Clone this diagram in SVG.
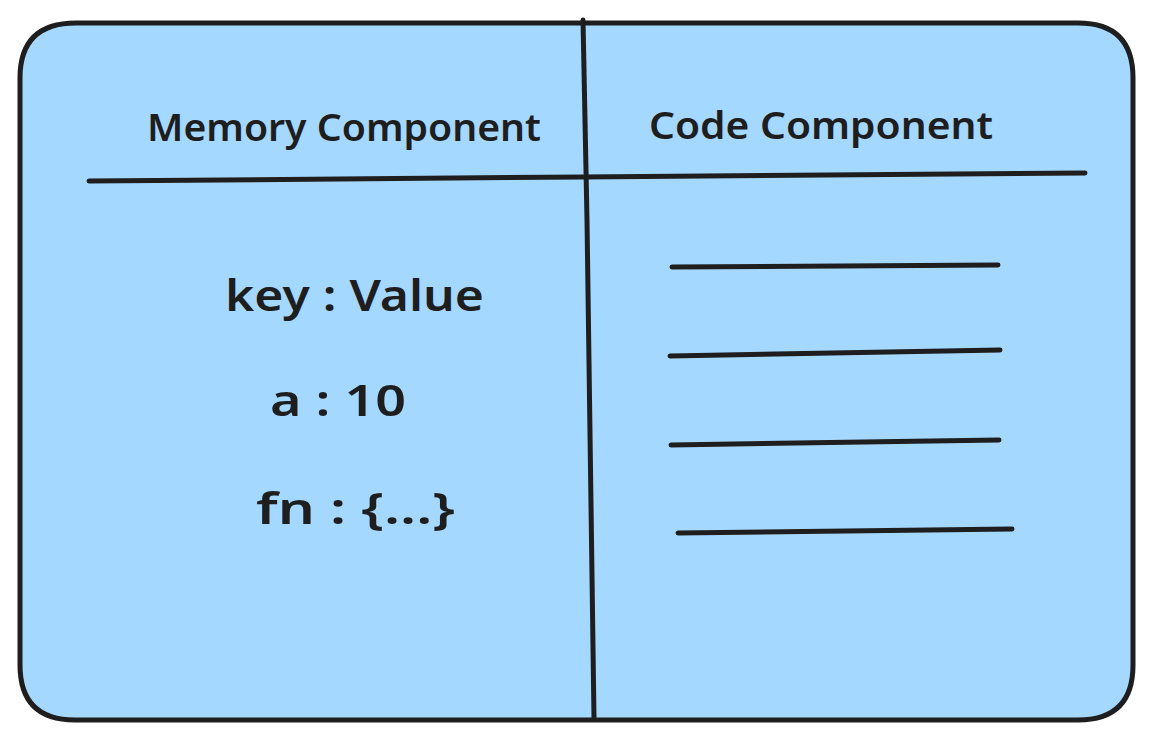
<svg xmlns="http://www.w3.org/2000/svg" width="1153" height="742" viewBox="0 0 1153 742">
<style>
.stroke{fill:none;stroke:#1e1e1e;stroke-width:5;stroke-linecap:round;stroke-linejoin:round}
.box{fill:#a5d8ff;stroke:#1e1e1e;stroke-width:5;stroke-linejoin:round}
.t{font-family:"Noto Sans","Liberation Sans",sans-serif;fill:#1e1e1e;font-weight:600}
.h{font-size:37px}
.b{font-size:43px}
</style>
<rect width="1153" height="742" fill="#ffffff"/>
<g id="container">
<path class="box" d="M76 23 L1078 23 Q1133 23 1133 78 L1133 665 Q1133 720 1078 720 L75 720 Q20 720 20 665 L20 78 Q20 23 76 23 Z"/>
</g>
<g id="connectors">
<path class="stroke" d="M583 20 L587 220 L594 718"/>
<path class="stroke" d="M89 181 L583 177 L1085 173"/>
<path class="stroke" d="M672 267 L998 265"/>
<path class="stroke" d="M670 356 L1000 350"/>
<path class="stroke" d="M671 445 L999 440"/>
<path class="stroke" d="M678 533 L1012 529"/>
</g>
<g id="memory-header"><text class="t h" x="147" y="141" textLength="394" lengthAdjust="spacingAndGlyphs">Memory Component</text></g>
<g id="code-header"><text class="t h" x="649" y="139" textLength="344" lengthAdjust="spacingAndGlyphs">Code Component</text></g>
<g id="key-value"><text class="t b" x="225" y="311" textLength="259" lengthAdjust="spacingAndGlyphs">key : Value</text></g>
<g id="a-10"><text class="t b" x="270" y="416" textLength="136" lengthAdjust="spacingAndGlyphs">a : 10</text></g>
<g id="fn"><text class="t b" x="256" y="524" textLength="199" lengthAdjust="spacingAndGlyphs">fn : {...}</text></g>
</svg>
